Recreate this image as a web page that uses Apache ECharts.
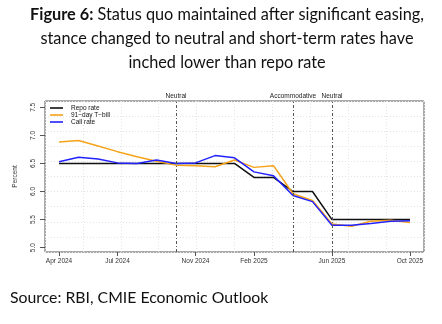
<!DOCTYPE html>
<html>
<head>
<meta charset="utf-8">
<script src="https://cdn.jsdelivr.net/npm/echarts@6/dist/echarts.min.js"></script>
<style>
  html, body { margin: 0; padding: 0; background: #fff; }
  #chart { width: 442px; height: 324px; }
</style>
</head>
<body>
<div id="chart"></div>
<script>
// Monthly observations, Apr 2024 .. Oct 2025
const months = ['Apr 2024','May 2024','Jun 2024','Jul 2024','Aug 2024','Sep 2024','Oct 2024','Nov 2024','Dec 2024',
  'Jan 2025','Feb 2025','Mar 2025','Apr 2025','May 2025','Jun 2025','Jul 2025','Aug 2025','Sep 2025','Oct 2025'];
const repoRate = [6.5, 6.5, 6.5, 6.5, 6.5, 6.5, 6.5, 6.5, 6.5, 6.5, 6.25, 6.25, 6.0, 6.0, 5.5, 5.5, 5.5, 5.5, 5.5];
const tbill91 = [6.88, 6.91, 6.81, 6.71, 6.62, 6.54, 6.47, 6.46, 6.44, 6.56, 6.43, 6.46, 5.96, 5.84, 5.42, 5.38, 5.47, 5.49, 5.45];
const callRate = [6.53, 6.61, 6.58, 6.51, 6.50, 6.56, 6.50, 6.51, 6.64, 6.60, 6.35, 6.28, 5.93, 5.82, 5.40, 5.40, 5.43, 5.47, 5.48];

// Axis ticks
const xTickIdx = [0, 3, 7, 10, 14, 18];
const yTicks = [5.0, 5.5, 6.0, 6.5, 7.0, 7.5];

// Policy stance changes (month index, label)
const stanceIdx = [6, 12, 14];
const stanceLabels = ['Neutral', 'Accommodative', 'Neutral'];

// Heading and source note
const titleLines = [
  ['Figure 6:', ' Status quo maintained after significant easing,'],
  ['', 'stance changed to neutral and short-term rates have'],
  ['', 'inched lower than repo rate']
];
const sourceText = 'Source: RBI, CMIE Economic Outlook';

const axisFont = { fontFamily: 'Liberation Sans', fontSize: 6.5, color: '#333' };
const pair = arr => arr.map((v, i) => [i, v]);
const headFont = 'Lato';
const headSize = 16.3;

const chart = echarts.init(document.getElementById('chart'), null, { renderer: 'canvas' });

const headGraphics = titleLines.map((ln, i) => ({
  type: 'text',
  x: 227, y: 15 + i * 24,
  style: {
    text: (ln[0] ? '{b|' + ln[0] + '}' : '') + ln[1],
    align: 'center', verticalAlign: 'middle',
    font: headSize + 'px ' + headFont, fill: '#111',
    rich: { b: { fontFamily: headFont, fontSize: headSize, fontWeight: 'bold', fill: '#111' } }
  }
}));
headGraphics.push({
  type: 'text', x: 10, y: 298,
  style: { text: sourceText, align: 'left', verticalAlign: 'middle', font: '15.8px ' + headFont, fill: '#111' }
});

chart.setOption({
  animation: false,
  backgroundColor: '#fff',
  graphic: headGraphics,
  grid: {
    left: 45, top: 101, width: 379, height: 151,
    show: true, borderColor: '#555', borderWidth: 1, backgroundColor: 'transparent'
  },
  legend: {
    left: 50, top: 104.5, orient: 'vertical', padding: 0,
    itemWidth: 13, itemHeight: 1.6, itemGap: 0,
    icon: 'rect',
    textStyle: { fontFamily: 'Liberation Sans', fontSize: 6.5, lineHeight: 6.6, color: '#111', padding: [0, 0, 0, 3] },
    data: ['Repo rate', '91\u2212day T\u2212bill', 'Call rate']
  },
  xAxis: [{
    type: 'value', min: -0.72, max: 18.72,
    axisLine: { show: false, onZero: false },
    splitLine: { show: false },
    axisTick: { show: true, customValues: xTickIdx, length: 4, lineStyle: { color: '#555' } },
    axisLabel: Object.assign({ customValues: xTickIdx, margin: 6, formatter: v => months[Math.round(v)] }, axisFont)
  }, {
    type: 'value', min: 0, max: 10, interval: 1, position: 'top',
    axisLine: { show: false, onZero: false }, axisTick: { show: false }, axisLabel: { show: false },
    splitLine: { show: true, lineStyle: { color: '#e4e4e4', type: [1, 2], width: 1 } }
  }],
  yAxis: [{
    type: 'value', min: 4.923, max: 7.612,
    axisLine: { show: false, onZero: false },
    splitLine: { show: false },
    axisTick: { show: true, customValues: yTicks, length: 5, lineStyle: { color: '#555' } },
    axisLabel: Object.assign({ customValues: yTicks, rotate: 90, margin: 8, formatter: v => v.toFixed(1) }, axisFont),
    name: 'Percent', nameLocation: 'middle', nameGap: 26, nameRotate: 90,
    nameTextStyle: { fontFamily: 'Liberation Sans', fontSize: 6.5, color: '#333' }
  }, {
    type: 'value', min: 0, max: 10, interval: 1, position: 'right',
    axisLine: { show: false, onZero: false }, axisTick: { show: false }, axisLabel: { show: false },
    splitLine: { show: true, lineStyle: { color: '#e4e4e4', type: [1, 2], width: 1 } }
  }],
  series: [{
    name: 'Repo rate', type: 'line', data: pair(repoRate),
    showSymbol: false, color: '#111', lineStyle: { width: 1.5, color: '#111' },
    markLine: {
      silent: true, symbol: 'none',
      lineStyle: { color: '#555', type: [3, 2, 1, 2], width: 1 },
      label: { position: 'end', distance: 1, fontFamily: 'Liberation Sans', fontSize: 6.5, color: '#222' },
      data: stanceIdx.map((x, i) => ({ xAxis: x, label: { formatter: stanceLabels[i] } }))
    }
  }, {
    name: '91\u2212day T\u2212bill', type: 'line', data: pair(tbill91),
    showSymbol: false, color: '#f5a31a', lineStyle: { width: 1.5, color: '#f5a31a' }
  }, {
    name: 'Call rate', type: 'line', data: pair(callRate),
    showSymbol: false, color: '#2222ff', lineStyle: { width: 1.5, color: '#2222ff' }
  }]
});
</script>
</body>
</html>
